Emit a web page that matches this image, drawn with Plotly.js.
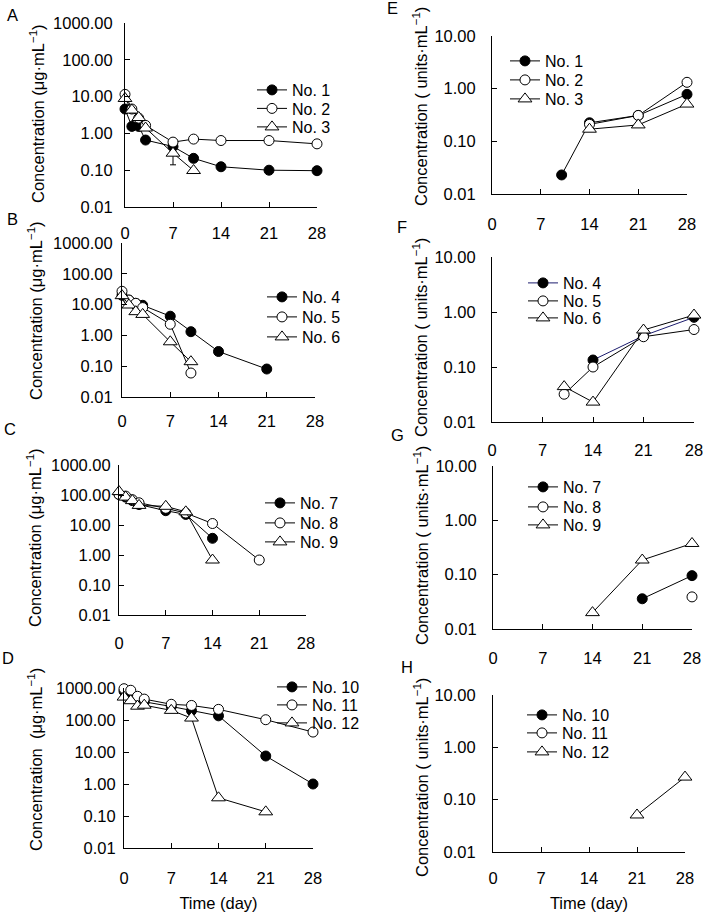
<!DOCTYPE html>
<html>
<head>
<meta charset="utf-8">
<script src="https://cdn.plot.ly/plotly-3.0.1.min.js"></script>
<style>html,body{margin:0;padding:0;background:#fff;}#chart{width:703px;height:912px;}</style>
</head>
<body>
<div id="chart"></div>
<script>
// ---------- DATA ----------
const daysLeft = [0, 1, 2, 3, 7, 10, 14, 21, 28];
const daysRight = [10, 14, 21, 28];
const xTicks = [0, 7, 14, 21, 28];
const yTicksLeft = [0.01, 0.1, 1, 10, 100, 1000];
const yTickTextLeft = ['0.01', '0.10', '1.00', '10.00', '100.00', '1000.00'];
const yTicksRight = [0.01, 0.1, 1, 10];
const yTickTextRight = ['0.01', '0.10', '1.00', '10.00'];
const panelLetters = ['A', 'B', 'C', 'D', 'E', 'F', 'G', 'H'];
const seriesNames = [['No. 1','No. 2','No. 3'],['No. 4','No. 5','No. 6'],['No. 7','No. 8','No. 9'],['No. 10','No. 11','No. 12']];

// Drug concentration (µg/mL), panels A-D
const A_no1 = [4.6, 1.55, 1.55, 0.66, 0.44, 0.21, 0.124, 0.100, 0.097];
const A_no2 = [11.5, 4.6, 2.6, 1.65, 0.58, 0.70, 0.64, 0.64, 0.52];
const A_no3 = [8.9, 4.3, 2.7, 1.4, 0.29, 0.098, null, null, null];
const A_no3_errMinus = [null, null, null, null, 0.15, null, null, null, null];
const B_no4 = [20, 14, 11, 9.5, 4.2, 1.32, 0.30, 0.081, null];
const B_no5 = [27, 14, 11, 8.0, 2.3, 0.060, null, null, null];
const B_no6 = [19.5, 9.7, 5.9, 4.8, 0.62, 0.14, null, null, null];
const C_no7 = [105, 85, 65, 48, 30, 22.5, 3.6, null, null];
const C_no8 = [105, 92, 70, 55, 36, 25, 11.2, 0.68, null];
const C_no9 = [130, 85, 65, 45, 42, 27.5, 0.68, null, null];
const D_no10 = [800, 680, 450, 370, 265, 195, 135, 7.5, 1.0];
const D_no11 = [950, 850, 550, 450, 310, 285, 215, 102, 42];
const D_no12 = [520, 400, 270, 290, 200, 115, 0.37, 0.135, null];
// Antibody concentration (units/mL), panels E-H
const E_no1 = [0.023, 0.225, 0.31, 0.78];
const E_no2 = [null, 0.21, 0.31, 1.32];
const E_no3 = [null, 0.17, 0.205, 0.51];
const F_no4 = [null, 0.134, 0.37, 0.80];
const F_no5 = [0.032, 0.10, 0.355, 0.48];
const F_no6 = [0.044, 0.023, 0.47, 0.88];
const G_no7 = [null, null, 0.036, 0.096];
const G_no8 = [null, null, null, 0.039];
const G_no9 = [null, 0.020, 0.186, 0.375];
const H_no10 = [null, null, null, null];
const H_no11 = [null, null, null, null];
const H_no12 = [null, null, 0.051, 0.27];

// ---------- LAYOUT GEOMETRY (pixels) ----------
const W = 703, HT = 912;
const FONT = 'Liberation Sans, Arial, sans-serif';
const panels = [
  {x:[125,317], y:[23,207], right:false, data:[A_no1,A_no2,A_no3], names:seriesNames[0], xstand:11, ystand:8, legX:302, legY:[90,108.5,127], title:[37,114], letter:[12,15]},
  {x:[122,315], y:[243,397], right:false, data:[B_no4,B_no5,B_no6], names:seriesNames[1], xstand:9, ystand:5, legX:312, legY:[297,317,337], title:[35,311], letter:[12,219]},
  {x:[119,306], y:[465,615], right:false, data:[C_no7,C_no8,C_no9], names:seriesNames[2], xstand:13, ystand:4, legX:310, legY:[503,523,542], title:[34,538], letter:[10,429]},
  {x:[124,313], y:[688,848], right:false, data:[D_no10,D_no11,D_no12], names:seriesNames[3], xstand:15, ystand:4, legX:322, legY:[687,705,723], title:[35,760], letter:[8,658], dbl:true},
  {x:[492,687], y:[36,194], right:true, data:[E_no1,E_no2,E_no3], names:seriesNames[0], xstand:15, ystand:12, legX:555, legY:[61,80,99], title:[420,107], letter:[392,8]},
  {x:[492,694], y:[257,422], right:true, data:[F_no4,F_no5,F_no6], names:seriesNames[1], xstand:13, ystand:12, legX:573, legY:[283,301,318], title:[420,338], letter:[402,227], navy:true},
  {x:[493,692], y:[466,629], right:true, data:[G_no7,G_no8,G_no9], names:seriesNames[2], xstand:14, ystand:12, legX:573, legY:[487,507,525], title:[421,546], letter:[397,435]},
  {x:[493,685], y:[695,852], right:true, data:[H_no10,H_no11,H_no12], names:seriesNames[3], xstand:11, ystand:13, legX:572, legY:[715,733,752], title:[421,778], letter:[407,667]}
];

const markerStyles = [
  {symbol:'circle', size:10, color:'#000000'},
  {symbol:'circle', size:10, color:'#ffffff'},
  {symbol:'triangle-up', size:12, color:'#ffffff'}
];

const traces = [];
const layout = {
  width: W, height: HT,
  margin: {l:0, r:0, t:0, b:0},
  paper_bgcolor: '#ffffff', plot_bgcolor: 'rgba(0,0,0,0)',
  font: {family: FONT, size: 16.5, color: '#000'},
  showlegend: true,
  annotations: []
};

let legCount = 0;
panels.forEach((p, i) => {
  const n = i + 1;
  const xa = 'xaxis' + (n === 1 ? '' : n), ya = 'yaxis' + (n === 1 ? '' : n);
  const xr = 'x' + (n === 1 ? '' : n), yr = 'y' + (n === 1 ? '' : n);
  layout[xa] = {
    domain: [p.x[0] / W, p.x[1] / W], anchor: yr,
    range: [0, 28], tickvals: xTicks, ticktext: xTicks.map(String),
    showline: true, linecolor: '#000', linewidth: 1,
    ticks: 'inside', ticklen: 5, tickcolor: '#000', tickwidth: 1,
    showgrid: false, zeroline: false, fixedrange: true,
    ticklabelstandoff: p.xstand, ticklabeloverflow: 'allow',
    tickfont: {family: FONT, size: 16.5, color: '#000'}
  };
  if (i === 3 || i === 7) {
    layout[xa].title = {text: 'Time (day)', font: {family: FONT, size: 16.5, color: '#000'}, standoff: 11};
  }
  layout[ya] = {
    domain: [1 - p.y[1] / HT, 1 - p.y[0] / HT], anchor: xr,
    type: 'log', range: p.right ? [-2, 1] : [-2, 3],
    tickvals: p.right ? yTicksRight : yTicksLeft,
    ticktext: p.right ? yTickTextRight : yTickTextLeft,
    showline: true, linecolor: '#000', linewidth: 1,
    ticks: 'inside', ticklen: 5, tickcolor: '#000', tickwidth: 1,
    showgrid: false, zeroline: false, fixedrange: true,
    ticklabelstandoff: p.ystand, ticklabeloverflow: 'allow',
    tickfont: {family: FONT, size: 16.5, color: '#000'}
  };
  const xs = p.right ? daysRight : daysLeft;
  p.data.forEach((ys, k) => {
    legCount += 1;
    const legName = 'legend' + (legCount === 1 ? '' : legCount);
    layout[legName] = {
      x: (p.legX - 50) / W, y: 1 - p.legY[k] / HT, xanchor: 'left', yanchor: 'middle',
      bgcolor: 'rgba(0,0,0,0)', borderwidth: 0,
      font: {family: FONT, size: 16, color: '#000'},
      itemwidth: 30
    };
    const ms = markerStyles[k];
    const lineColor = (p.navy && k === 0) ? '#1c1c6e' : '#000000';
    const t = {
      type: 'scatter', mode: 'lines+markers',
      x: xs, y: ys, xaxis: xr, yaxis: yr,
      name: p.names[k], legend: legName,
      cliponaxis: false,
      line: {color: lineColor, width: 1},
      marker: {symbol: ms.symbol, size: ms.size, color: ms.color, line: {color: '#000', width: 1}},
      hoverinfo: 'skip'
    };
    if (i === 0 && k === 2) {
      t.error_y = {type: 'data', symmetric: false, array: A_no3_errMinus.map(v => v === null ? null : 0), arrayminus: A_no3_errMinus, color: '#000', thickness: 1, width: 3};
    }
    traces.push(t);
  });
  const ttl = p.right ? 'Concentration ( units·mL<sup>−1</sup>)' : (p.dbl ? 'Concentration  (μg·mL<sup>−1</sup>)' : 'Concentration (μg·mL<sup>−1</sup>)');
  layout.annotations.push({
    xref: 'paper', yref: 'paper', x: p.title[0] / W, y: 1 - p.title[1] / HT,
    xanchor: 'center', yanchor: 'middle', textangle: -90, showarrow: false,
    text: ttl, font: {family: FONT, size: 16.5, color: '#000'}
  });
  layout.annotations.push({
    xref: 'paper', yref: 'paper', x: p.letter[0] / W, y: 1 - p.letter[1] / HT,
    xanchor: 'center', yanchor: 'middle', showarrow: false,
    text: panelLetters[i], font: {family: FONT, size: 16.5, color: '#000'}
  });
});

Plotly.newPlot('chart', traces, layout, {displayModeBar: false, staticPlot: true});
</script>
</body>
</html>
